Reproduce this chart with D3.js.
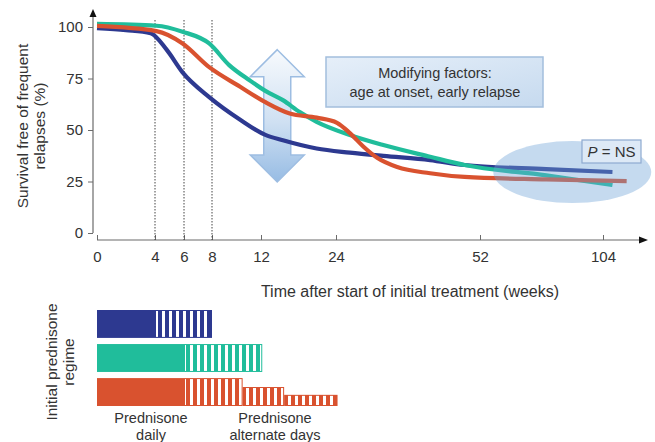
<!DOCTYPE html>
<html>
<head>
<meta charset="utf-8">
<script src="https://cdn.jsdelivr.net/npm/d3@7"></script>
<style>
body { margin: 0; background: #fff; }
text { font-family: "Liberation Sans", Arial, sans-serif; fill: #333; }
</style>
</head>
<body>
<div id="chart"></div>
<script>
// tick labels
const weekTicks = [0, 4, 6, 8, 12, 24, 52, 104];
const survivalTicks = [0, 25, 50, 75, 100];
const markerWeeks = [4, 6, 8];

// survival curves: [week, % free of frequent relapses]
const curve8wk = [[0, 99.5], [2, 98.5], [3.7, 97], [4.8, 89], [5.9, 78], [7.8, 66], [10.3, 55],
  [12.7, 47.6], [15.5, 45], [20.9, 41], [26.7, 39], [33.2, 37.4], [42.3, 35.4], [49, 33],
  [80, 31], [108, 29.6]];
const curve12wk = [[0, 101.5], [4.1, 100.6], [5.9, 97.7], [7.8, 92], [9.4, 81.5], [11.1, 74],
  [12.7, 69], [15.5, 64.5], [18.2, 58.7], [20.9, 54], [26.7, 47.6], [33.2, 42.7], [42.3, 37],
  [49, 33], [80, 28], [108, 23.3]];
const curveTaper = [[0, 100.5], [4.1, 98], [5.9, 92], [7.8, 80.5], [10.3, 71], [12.7, 63.5],
  [16.6, 58], [20.9, 56], [24.2, 53.5], [26.7, 48.5], [29.3, 42], [32, 36.5], [35.9, 32],
  [42.3, 29], [49, 27.2], [80, 26], [114, 25.2]];

// initial prednisone regimes: weeks of daily dosing, then alternate-day steps [end week, relative dose]
const regimeDaily = [4, 6, 6];
const regimeAlternate = [
  [[8, 1]],
  [[12.2, 1]],
  [[10.5, 1], [15.7, 0.68], [24.3, 0.4]]
];
const regimeColors = ["#2d3990", "#20bd9b", "#d9522f"];

const W = 655, H = 442;
const svg = d3.select("#chart").append("svg")
  .attr("width", W).attr("height", H);

const defs = svg.append("defs");

// white vertical stripes for alternate-day dosing
const pat = defs.append("pattern")
  .attr("id", "stripes")
  .attr("patternUnits", "userSpaceOnUse")
  .attr("x", 1).attr("width", 7).attr("height", 10);
pat.append("rect").attr("x", 0).attr("y", 0).attr("width", 3).attr("height", 10).attr("fill", "#fff");

const arrowGrad = defs.append("linearGradient")
  .attr("id", "arrowGrad").attr("x1", 0).attr("y1", 0).attr("x2", 0).attr("y2", 1);
arrowGrad.append("stop").attr("offset", "0%").attr("stop-color", "#f7fafd");
arrowGrad.append("stop").attr("offset", "55%").attr("stop-color", "#cfe0f2");
arrowGrad.append("stop").attr("offset", "100%").attr("stop-color", "#97bce4");

const boxGrad = defs.append("linearGradient")
  .attr("id", "boxGrad").attr("x1", 0).attr("y1", 0).attr("x2", 1).attr("y2", 1);
boxGrad.append("stop").attr("offset", "0%").attr("stop-color", "#e6eff9");
boxGrad.append("stop").attr("offset", "100%").attr("stop-color", "#c6daef");

// scales: the time axis is stretched at the start
const x = d3.scaleLinear()
  .domain(weekTicks)
  .range([97, 155, 184, 212, 261, 336, 480, 603]);
const y = d3.scaleLinear().domain([0, 100]).range([233, 27]);

const axisColor = "#6b6b6b";
const fontStack = "'Liberation Sans', Arial, sans-serif";

// y axis
const yAxisG = svg.append("g")
  .attr("transform", "translate(93,0)")
  .call(d3.axisLeft(y).tickValues(survivalTicks).tickSize(5).tickPadding(5));
yAxisG.select(".domain").remove();
yAxisG.selectAll(".tick line").attr("stroke", axisColor);
yAxisG.selectAll(".tick text").attr("font-size", 15).attr("fill", "#333")
  .style("font-family", fontStack);
svg.append("line")
  .attr("x1", 93).attr("x2", 93).attr("y1", y(0)).attr("y2", 16)
  .attr("stroke", axisColor).attr("stroke-width", 1.2);
svg.append("path")
  .attr("d", "M93,9 L89.5,17 L96.5,17 Z").attr("fill", "#111");

// x axis
const xAxisG = svg.append("g")
  .attr("transform", "translate(0,240)")
  .call(d3.axisBottom(x).tickValues(weekTicks).tickFormat(d3.format("d"))
    .tickSizeInner(-5).tickSizeOuter(0).tickPadding(11));
xAxisG.select(".domain").remove();
xAxisG.selectAll(".tick line").attr("stroke", axisColor);
xAxisG.selectAll(".tick text").attr("font-size", 15).attr("fill", "#333")
  .style("font-family", fontStack);
svg.append("line")
  .attr("x1", x(0)).attr("x2", 640).attr("y1", 240).attr("y2", 240)
  .attr("stroke", axisColor).attr("stroke-width", 1.2);
svg.append("path")
  .attr("d", "M648,240 L639,236.5 L639,243.5 Z").attr("fill", "#111");

// dotted markers at 4, 6 and 8 weeks
svg.selectAll(".marker")
  .data(markerWeeks)
  .enter().append("line")
  .attr("class", "marker")
  .attr("x1", d => x(d)).attr("x2", d => x(d))
  .attr("y1", 20).attr("y2", 240)
  .attr("stroke", "#444").attr("stroke-width", 1)
  .attr("stroke-dasharray", "1.5,1.5");

// axis titles
const yTitle = svg.append("text")
  .attr("transform", "translate(28,126) rotate(-90)")
  .attr("text-anchor", "middle").attr("font-size", 15.5);
yTitle.append("tspan").attr("x", 0).attr("dy", 0).text("Survival free of frequent");
yTitle.append("tspan").attr("x", 0).attr("dy", 17).text("relapses (%)");

svg.append("text")
  .attr("x", 410).attr("y", 297)
  .attr("text-anchor", "middle").attr("font-size", 16)
  .text("Time after start of initial treatment (weeks)");

// double arrow (variability)
const ax = x(14.6), aTop = y(89), aBot = y(24.8);
const headW = 27, headH = 27, shaftW = 13.5;
svg.append("path")
  .attr("d", `M${ax},${aTop} L${ax + headW},${aTop + headH} L${ax + shaftW},${aTop + headH}
    L${ax + shaftW},${aBot - headH} L${ax + headW},${aBot - headH} L${ax},${aBot}
    L${ax - headW},${aBot - headH} L${ax - shaftW},${aBot - headH} L${ax - shaftW},${aTop + headH}
    L${ax - headW},${aTop + headH} Z`)
  .attr("fill", "url(#arrowGrad)")
  .attr("stroke", "#9dbde2").attr("stroke-width", 1.5);

// survival lines
const line = d3.line()
  .x(d => x(d[0]))
  .y(d => y(d[1]))
  .curve(d3.curveMonotoneX);

svg.selectAll(".curve")
  .data([curve8wk, curve12wk, curveTaper])
  .enter().append("path")
  .attr("class", "curve")
  .attr("d", line)
  .attr("fill", "none")
  .attr("stroke", (d, i) => regimeColors[i])
  .attr("stroke-width", 4.2);

// shaded region where curves converge
svg.append("ellipse")
  .attr("cx", x(91)).attr("cy", y(29.6))
  .attr("rx", 79).attr("ry", 31)
  .attr("fill", "#6fa3d8").attr("fill-opacity", 0.4);

// P = NS box
svg.append("rect")
  .attr("x", 582).attr("y", 140).attr("width", 59).attr("height", 23)
  .attr("fill", "#dde9f6").attr("stroke", "#8eaad0").attr("stroke-width", 1.2);
const pText = svg.append("text")
  .attr("x", 611.5).attr("y", 157)
  .attr("text-anchor", "middle").attr("font-size", 15);
pText.append("tspan").attr("font-style", "italic").text("P");
pText.append("tspan").text(" = NS");

// modifying factors box
svg.append("rect")
  .attr("x", 326).attr("y", 57).attr("width", 217).attr("height", 50)
  .attr("fill", "url(#boxGrad)").attr("stroke", "#a3bedd").attr("stroke-width", 1.5);
svg.append("text")
  .attr("x", 435).attr("y", 78)
  .attr("text-anchor", "middle").attr("font-size", 14.5)
  .text("Modifying factors:");
svg.append("text")
  .attr("x", 435).attr("y", 97)
  .attr("text-anchor", "middle").attr("font-size", 14.5)
  .text("age at onset, early relapse");

// regime bars
const row = d3.scaleBand().domain(d3.range(3)).range([310, 406]).paddingInner(0.18);
const bars = svg.selectAll(".regime")
  .data(regimeDaily)
  .enter().append("g")
  .attr("class", "regime");

bars.append("rect")
  .attr("x", x(0))
  .attr("y", (d, i) => row(i))
  .attr("width", d => x(d) - x(0))
  .attr("height", row.bandwidth())
  .attr("fill", (d, i) => regimeColors[i]);

regimeAlternate.forEach((steps, i) => {
  let start = regimeDaily[i];
  steps.forEach(s => {
    const h = row.bandwidth() * s[1];
    const yy = row(i) + row.bandwidth() - h;
    svg.append("rect")
      .attr("x", x(start)).attr("y", yy)
      .attr("width", x(s[0]) - x(start)).attr("height", h)
      .attr("fill", regimeColors[i]);
    svg.append("rect")
      .attr("x", x(start) + 1).attr("y", yy + 1)
      .attr("width", x(s[0]) - x(start) - 2).attr("height", h - 2)
      .attr("fill", "url(#stripes)");
    start = s[0];
  });
});

const rTitle = svg.append("text")
  .attr("transform", "translate(57,362) rotate(-90)")
  .attr("text-anchor", "middle").attr("font-size", 15.5);
rTitle.append("tspan").attr("x", 0).attr("dy", 0).text("Initial prednisone");
rTitle.append("tspan").attr("x", 0).attr("dy", 17).text("regime");

const lab1 = svg.append("text").attr("text-anchor", "middle").attr("font-size", 14.5);
lab1.append("tspan").attr("x", 151).attr("y", 423).text("Prednisone");
lab1.append("tspan").attr("x", 151).attr("y", 440).text("daily");
const lab2 = svg.append("text").attr("text-anchor", "middle").attr("font-size", 14.5);
lab2.append("tspan").attr("x", 275).attr("y", 423).text("Prednisone");
lab2.append("tspan").attr("x", 275).attr("y", 440).text("alternate days");
</script>
</body>
</html>
